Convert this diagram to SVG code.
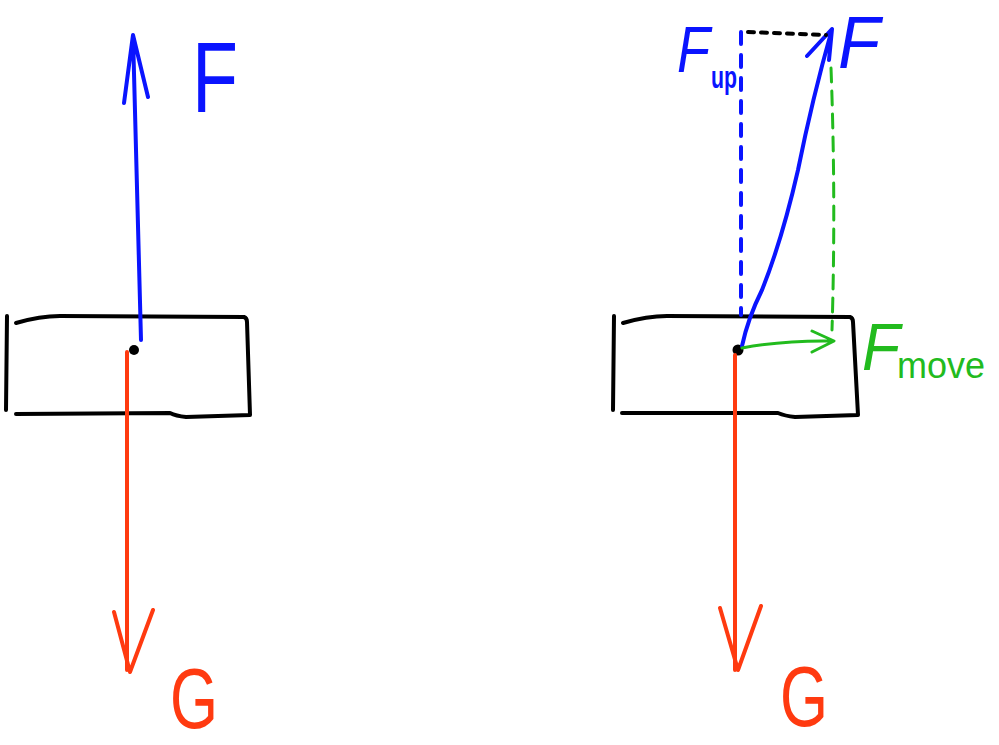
<svg xmlns="http://www.w3.org/2000/svg" width="999" height="745" viewBox="0 0 999 745">
<style>
.k{fill:none;stroke:#000;stroke-width:4;stroke-linecap:round;stroke-linejoin:round}
.b{fill:none;stroke:#0a14ff;stroke-width:4;stroke-linecap:round;stroke-linejoin:round}
.r{fill:none;stroke:#ff3a10;stroke-width:4;stroke-linecap:round;stroke-linejoin:round}
.g{fill:none;stroke:#22bb1e;stroke-width:3;stroke-linecap:round;stroke-linejoin:round}
.t{font-family:"Liberation Sans",Arial,sans-serif;font-style:italic}
.u{font-family:"Liberation Sans",Arial,sans-serif;font-style:normal}
</style>
<rect width="999" height="745" fill="#fff"/>
<g id="block-left">
<path class="k" d="M7,316 L6,410"/>
<path class="k" d="M16,323 Q40,316 60,316 L244,317 Q247,318 247,322 L250,415 L186,417 Q176,416 170,413 L16,414"/>
<circle cx="134" cy="350" r="5" fill="#000"/>
</g>
<g id="block-right">
<path class="k" d="M614,316 L613,410"/>
<path class="k" d="M623,323 Q647,316 667,316 L850,317 Q853,318 853,322 L858,415 L795,417 Q785,416 778,413 L622,413"/>
<circle cx="738" cy="350" r="5.5" fill="#000"/>
</g>
<g id="connectors">
<path class="b" d="M141,340 L133,35 M124,103 L133,35 L148,97"/>
<path class="r" d="M127,352 L127,670 M114,612 L130,672 L153,610"/>
<path class="r" d="M735,355 L735,670 M720,608 L738,670 L761,606"/>
<path class="b" d="M742,346 Q748,318 762,290 Q782,240 798,170 Q812,100 832,29 M807,56 L832,29 L829,60"/>
<path class="b" stroke-dasharray="12,11" d="M741,32 L741,315"/>
<path class="k" stroke-width="3" stroke-dasharray="6,7" d="M748,32 L826,35"/>
<path class="g" stroke-dasharray="14,9" d="M831,68 Q836,200 832,330"/>
<path class="g" d="M742,348 Q785,340 834,341 M812,331 L834,341 L812,352"/>
</g>
<g id="label-F-left"><text class="u" x="192" y="112" font-size="100" fill="#0a14ff" textLength="46" lengthAdjust="spacingAndGlyphs">F</text></g>
<g id="label-G-left"><text class="u" x="170" y="728" font-size="86" fill="#ff3a10" textLength="48" lengthAdjust="spacingAndGlyphs">G</text></g>
<g id="label-G-right"><text class="u" x="780" y="726" font-size="86" fill="#ff3a10" textLength="48" lengthAdjust="spacingAndGlyphs">G</text></g>
<g id="label-F-right"><text class="t" x="838" y="68" font-size="74" fill="#0a14ff" textLength="42" lengthAdjust="spacingAndGlyphs">F</text></g>
<g id="label-Fup"><text class="t" x="677" y="72" font-size="64" fill="#0a14ff" textLength="33" lengthAdjust="spacingAndGlyphs">F</text><text class="u" x="711" y="88" font-size="32" fill="#0a14ff" font-weight="bold" textLength="26" lengthAdjust="spacingAndGlyphs">up</text></g>
<g id="label-Fmove"><text class="t" x="862" y="370" font-size="66" fill="#22bb1e" textLength="38" lengthAdjust="spacingAndGlyphs">F</text><text class="u" x="897" y="378" font-size="36" fill="#22bb1e" textLength="88" lengthAdjust="spacingAndGlyphs">move</text></g>
</svg>
